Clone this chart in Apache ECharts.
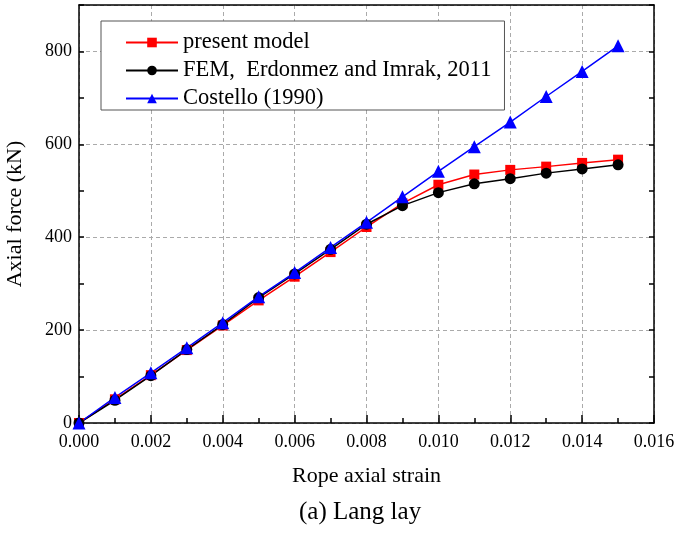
<!DOCTYPE html>
<html>
<head>
<meta charset="utf-8">
<script src="https://cdn.jsdelivr.net/npm/echarts@6/dist/echarts.min.js"></script>
<style>
  html, body { margin: 0; padding: 0; background: #fff; }
  #container { width: 676px; height: 534px; }
</style>
</head>
<body>
<div id="container"></div>
<script>
// rope axial strain
var strain = [0, 0.001, 0.002, 0.003, 0.004, 0.005, 0.006, 0.007, 0.008,
              0.009, 0.010, 0.011, 0.012, 0.013, 0.014, 0.015];
// axial force (kN)
var presentModel = [0, 51, 103, 157, 210, 264, 315, 368, 422, 473, 513, 535, 545, 552, 560, 567];
var femErdonmez  = [0, 49, 102, 158, 212, 270, 321, 374, 428, 468, 496, 515, 526, 538, 547, 556];
var costello     = [0, 55, 108, 162, 216, 272, 324, 378, 432, 487, 542, 595, 648, 703, 757, 812];

var seriesNames = ['present model', 'FEM,  Erdonmez and Imrak, 2011', 'Costello (1990)'];

function pairs(ys) {
  var out = [];
  for (var i = 0; i < strain.length; i++) out.push([strain[i], ys[i]]);
  return out;
}

var font = 'Liberation Serif';
var dom = document.getElementById('container');
var myChart = echarts.init(dom);

var option = {
  backgroundColor: '#fff',
  animation: false,
  textStyle: { fontFamily: font, color: '#000' },
  title: {
    text: '(a) Lang lay',
    left: 299,
    top: 500,
    padding: 0,
    textStyle: { fontFamily: font, fontSize: 25, fontWeight: 'normal', color: '#000' }
  },
  legend: {
    orient: 'vertical',
    left: 101,
    top: 21,
    padding: [10, 13, 0, 24],
    itemGap: 5,
    itemWidth: 52,
    itemHeight: 12,
    backgroundColor: '#fff',
    borderColor: '#555',
    borderWidth: 1,
    borderRadius: 0,
    textStyle: { fontFamily: font, fontSize: 22.5, color: '#000' },
    data: seriesNames
  },
  grid: { left: 79, right: 22, top: 5, bottom: 111, outerBoundsMode: 'none' },
  xAxis: [{
    type: 'value',
    position: 'bottom',
    min: 0, max: 0.016, interval: 0.002,
    name: 'Rope axial strain',
    nameLocation: 'middle',
    nameGap: 42,
    nameTextStyle: { fontFamily: font, fontSize: 22, color: '#000' },
    axisLine: { show: true, onZero: false, lineStyle: { color: '#000', width: 1.5 } },
    axisTick: { show: true, inside: true, length: 8, lineStyle: { color: '#000', width: 1.5 } },
    minorTick: { show: true, splitNumber: 2, length: 5, lineStyle: { color: '#000', width: 1.5 } },
    axisLabel: {
      margin: 10, fontFamily: font, fontSize: 18, color: '#000',
      formatter: function (v) { return v.toFixed(3); }
    },
    splitLine: { show: true, lineStyle: { color: '#aaa', type: [4, 3], width: 1 } }
  }, {
    type: 'value',
    position: 'top',
    min: 0, max: 0.016, interval: 0.002,
    axisLine: { show: true, onZero: false, lineStyle: { color: '#000', width: 1.5 } },
    axisTick: { show: false },
    axisLabel: { show: false },
    splitLine: { show: false }
  }],
  yAxis: [{
    type: 'value',
    position: 'left',
    min: 0, max: 900, interval: 200,
    name: 'Axial force (kN)',
    nameLocation: 'middle',
    nameGap: 53,
    nameTextStyle: { fontFamily: font, fontSize: 22, color: '#000' },
    axisLine: { show: true, onZero: false, lineStyle: { color: '#000', width: 1.5 } },
    axisTick: { show: false },
    axisLabel: {
      margin: 7, fontFamily: font, fontSize: 18, color: '#000',
      formatter: function (v) { return v > 800 ? '' : String(v); }
    },
    splitLine: { show: true, lineStyle: { color: '#aaa', type: [4, 3], width: 1 } }
  }, {
    type: 'value',
    position: 'right',
    min: 0, max: 900, interval: 100,
    axisLine: { show: true, onZero: false, lineStyle: { color: '#000', width: 1.5 } },
    axisTick: { show: true, inside: true, length: 5, lineStyle: { color: '#000', width: 1.5 } },
    axisLabel: { show: false },
    splitLine: { show: false }
  }, {
    // tick marks every 100 on the left axis
    type: 'value',
    position: 'left',
    min: 0, max: 900, interval: 100,
    axisLine: { show: false },
    axisTick: { show: true, inside: true, length: 5, lineStyle: { color: '#000', width: 1.5 } },
    axisLabel: { show: false },
    splitLine: { show: false }
  }],
  series: [{
    name: seriesNames[0],
    type: 'line',
    data: pairs(presentModel),
    symbol: 'rect',
    symbolSize: 10,
    color: '#ff0000',
    lineStyle: { color: '#ff0000', width: 1.5 },
    itemStyle: { color: '#ff0000' }
  }, {
    name: seriesNames[1],
    type: 'line',
    data: pairs(femErdonmez),
    symbol: 'circle',
    symbolSize: 11,
    color: '#000',
    lineStyle: { color: '#000', width: 1.5 },
    itemStyle: { color: '#000' }
  }, {
    name: seriesNames[2],
    type: 'line',
    data: pairs(costello),
    symbol: 'triangle',
    symbolSize: 13,
    color: '#0000ff',
    lineStyle: { color: '#0000ff', width: 1.5 },
    itemStyle: { color: '#0000ff' }
  }]
};

myChart.setOption(option, true);
</script>
</body>
</html>
